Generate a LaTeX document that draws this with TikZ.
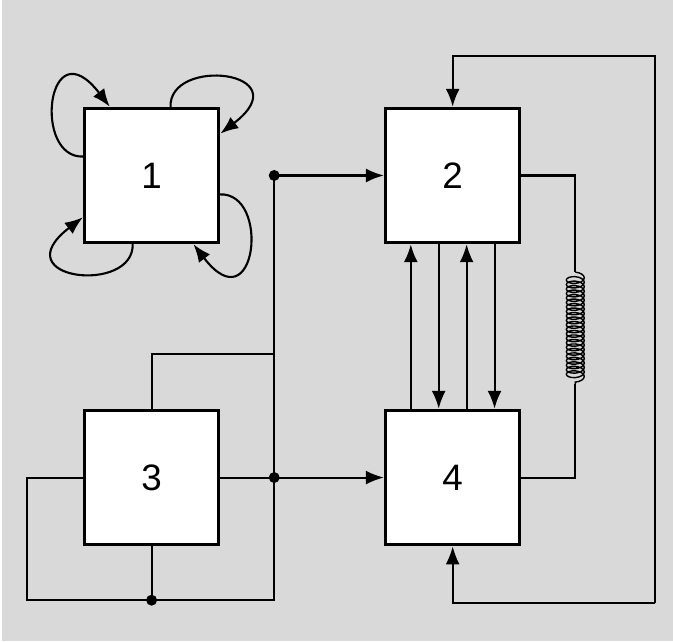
\documentclass[tikz,border=0pt]{standalone}
\usepackage{fontspec}
\setsansfont{Liberation Sans}
\usetikzlibrary{calc,arrows.meta,decorations.pathmorphing}
\tikzset{
    block/.style={draw, fill=white, line width=1.7pt, minimum size=2.7cm, inner sep=0pt, font=\sffamily\fontsize{21}{25}\selectfont},
    wire/.style={draw, line width=1.2pt},
    arr/.style={wire, -{Latex[length=3.6mm, width=2.8mm]}},
    spring/.style={draw, line width=0.8pt, decorate, decoration={coil, amplitude=1.8mm, segment length=0.9mm}},
    dot/.style={fill, radius=1.1mm}
}
\begin{document}
\begin{tikzpicture}[x=0.02cm, y=-0.02cm]
    % background
    \fill[black!15] (0,0) rectangle (673,643);

    % Blocks
    \node[block] (b1) at (150,176) {1};
    \node[block] (b2) at (452,176) {2};
    \node[block] (b3) at (150,479) {3};
    \node[block] (b4) at (452,479) {4};

    % junctions and corners
    \coordinate (d1) at (273,176);
    \coordinate (d2) at (273,479);
    \coordinate (d3) at (150,602);
    \coordinate (c1) at (273,602);
    \coordinate (c2) at (25,602);
    \coordinate (j1) at (273,355);
    \coordinate (r1) at (655,56);
    \coordinate (r2) at (655,605);
    \coordinate (k1) at (575,273);
    \coordinate (k2) at (575,385);

    % self loops on block 1
    \foreach \r in {0,90,180,270}
        \draw[arr, shift={(b1.center)}, rotate=\r] (-68,-19) .. controls (-120,-16) and (-105,-151) .. (-42,-69);

    % wires from block 3
    \draw[wire] (b3.west) -| (c2) -- (c1) -- (d1);
    \draw[wire] (b3.south) -- (d3);
    \draw[wire] (b3.north) |- (j1);
    \draw[wire] (b3.east) -- (d2);
    \draw[arr] (d2) -- (b4.west);
    \draw[arr] (d1) -- (b2.west);
    \foreach \p in {d1,d2,d3} \fill[dot] (\p) circle;

    % links between blocks 2 and 4
    \foreach \dx in {-42,14}
        \draw[arr] ($(b4.north)+(\dx,0)$) -- ($(b2.south)+(\dx,0)$);
    \foreach \dx in {-14,42}
        \draw[arr] ($(b2.south)+(\dx,0)$) -- ($(b4.north)+(\dx,0)$);

    % spring
    \draw[wire] (b2.east) -| (k1);
    \draw[spring] (k1) -- (k2);
    \draw[wire] (k2) |- (b4.east);

    % return loop
    \draw[arr] (r2) -- (r1) -| (b2.north);
    \draw[arr] (r2) -| (b4.south);
\end{tikzpicture}
\end{document}
